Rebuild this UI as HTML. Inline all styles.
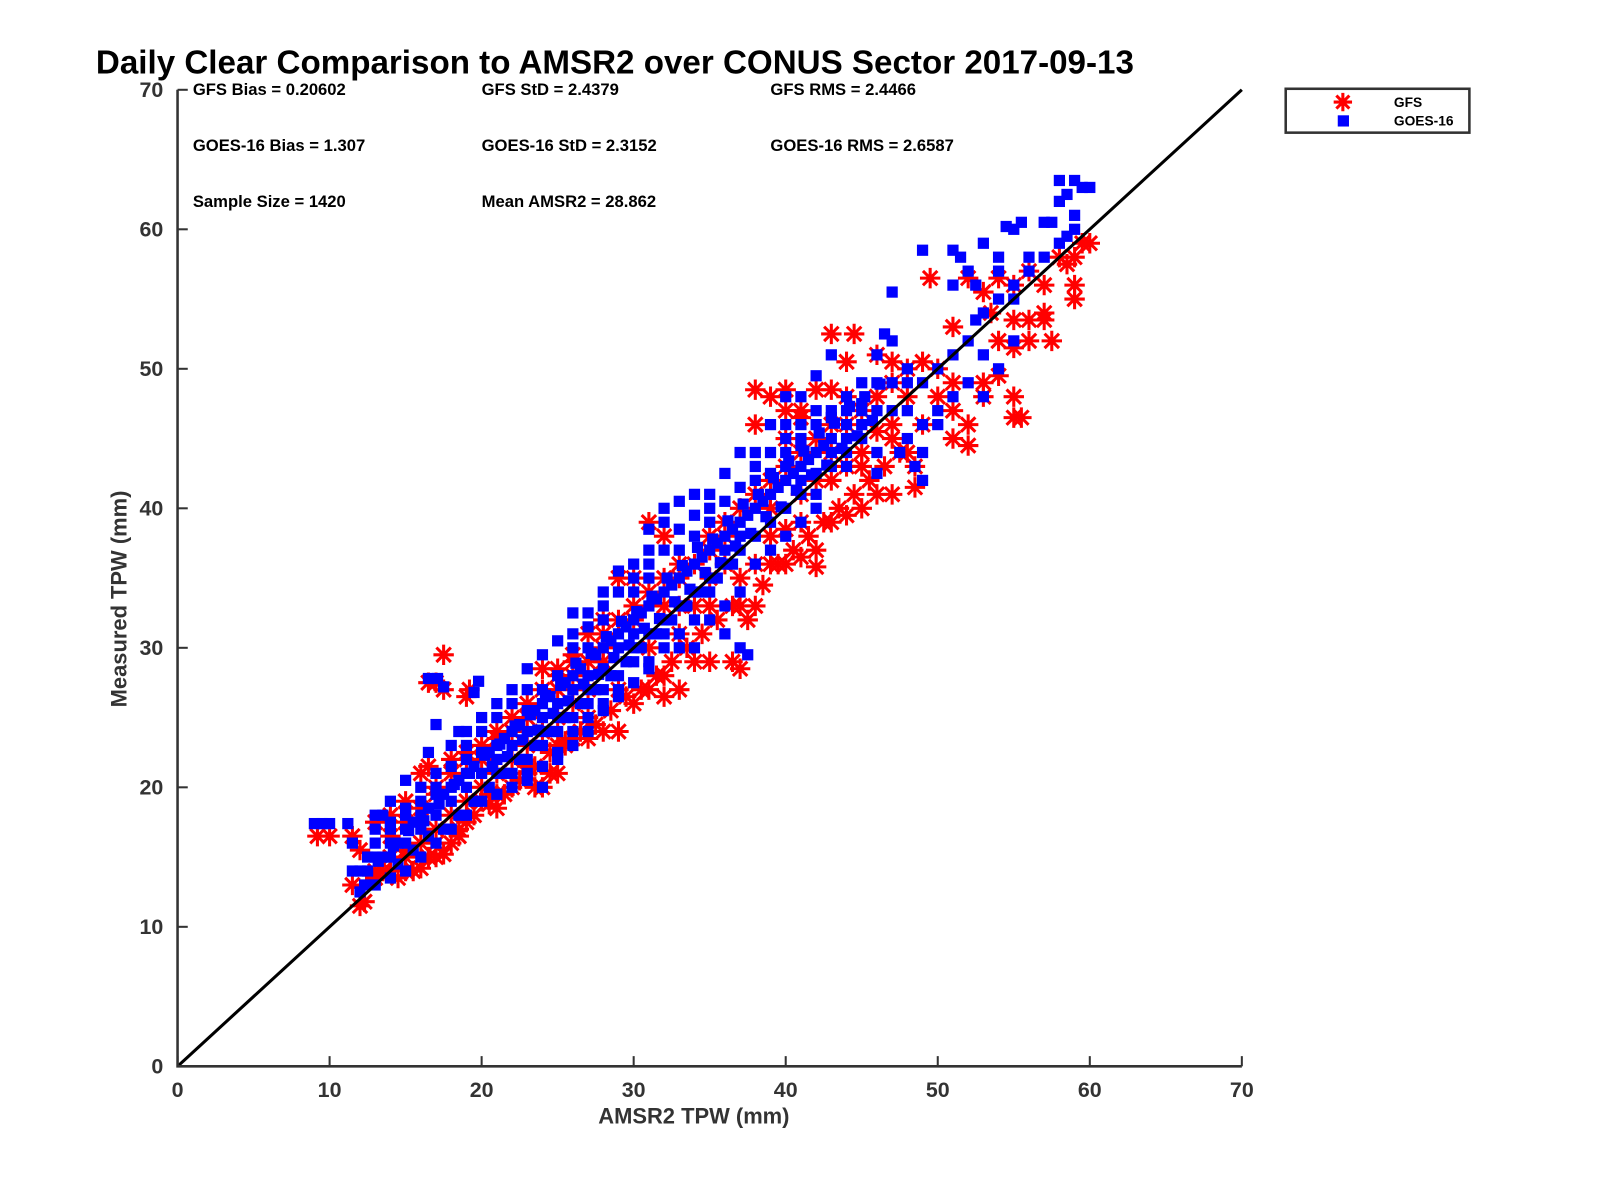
<!DOCTYPE html>
<html><head><meta charset="utf-8"><style>
body{margin:0;background:#fff;}
svg{display:block;font-family:"Liberation Sans",sans-serif;}
</style></head><body>
<svg id="chart" width="1600" height="1200" viewBox="0 0 1568 1176">
<text x="94" y="72" font-size="32.5" font-weight="bold" fill="#000">Daily Clear Comparison to AMSR2 over CONUS Sector 2017-09-13</text>
<g font-size="16.3" font-weight="bold" fill="#000">
<text x="189" y="93">GFS Bias = 0.20602</text>
<text x="472" y="93">GFS StD = 2.4379</text>
<text x="755" y="93">GFS RMS = 2.4466</text>
<text x="189" y="148">GOES-16 Bias = 1.307</text>
<text x="472" y="148">GOES-16 StD = 2.3152</text>
<text x="755" y="148">GOES-16 RMS = 2.6587</text>
<text x="189" y="203">Sample Size = 1420</text>
<text x="472" y="203">Mean AMSR2 = 28.862</text>
</g>
<g id="marks"></g>
<g id="axes"></g>
<text x="680" y="1101" font-size="21.5" font-weight="bold" fill="#333" text-anchor="middle">AMSR2 TPW (mm)</text>
<text transform="translate(124,587) rotate(-90)" font-size="21.5" font-weight="bold" fill="#333" text-anchor="middle">Measured TPW (mm)</text>
<g>
<rect x="1260" y="87" width="180" height="43" fill="#fff" stroke="#333" stroke-width="2.5"/>
<g id="legstar"></g>
<rect x="1311" y="113" width="11" height="11" fill="#0000ff"/>
<text x="1366" y="105" font-size="13.5" font-weight="bold">GFS</text>
<text x="1366" y="123" font-size="13.5" font-weight="bold">GOES-16</text>
</g>
</svg>
<script>
const xTicks=[0,10,20,30,40,50,60,70];
const yTicks=[0,10,20,30,40,50,60,70];
const gfsX=[9.2,10,11.5,12,11.5,12,12.3,13,13.5,14,15,15.5,16,17,17.5,18,18.5,13,14,15,16,16.5,17,16.5,17,17.5,17.5,19,19.2,18,19,20,20.5,21,22,23,23.5,24,24.5,25,25.5,26,27,28,29,24,25,26,27,27,28,29,30,31,32,30,31,32,33,32,34,35,33,34,35,36,36.5,37,37,37.5,38,38,39,39,40,41,42,42,40,41,43,44,45,46,47,48.5,48.5,48,47,46,45,44,43,42,38,39,40,40,41,42,43,44,44.5,43,46,47,47,48,49,50,50,49,51,51,51,52,53,53,54,55,55,55.5,52,49.5,53,53.5,54,55,55,56,56,57,57.5,57,57,58,58.5,59,59,59,59.5,60,56,55,54,52,51,39,36,35,33,32,30,28,27,26,25,24,23,22,21,20,19,18,17,16,15,14,13,22,20,21,23,25,26,28,30,32,34,36,38,40,42,44,46,48,31,33,35,37,29,27,25,23,21,19,17,15,41,43,45,47,
14.5,16.5,18.5,19.5,20.5,21.5,22.5,23.5,24.5,25.5,26.5,27.5,28.5,29.5,30.5,31.5,32.5,33.5,34.5,35.5,36.5,38.5,39.5,40.5,41.5,42.5,43.5,44.5,45.5,46.5,47.5,14,15,16,17,18,19,20,21,22,23,24,25,26,28,29,31,33,35,37,39,41,43,45,40,38,41,44];
const gfsY=[16.5,16.5,16.5,15.5,13,11.5,11.8,13.5,14,14,14,14,14.2,15,15.2,16,16.5,17.5,18,19,21,21.5,20,27.5,27.5,29.5,27,26.5,27,22,22.5,19,19.5,18.5,20,21,20,20,21,21,23,23.5,23.5,24,24,28.5,28.5,29,29,31,32,35,35,39,38,26,27,28,27,26.5,29,29,31,33,35,36,29,28.5,33,32,33,36,36,38,36,36.5,35.8,37,38.5,39,39,39.5,40,41,41,41.5,43,44,45,45.5,44,43,44,42,48.5,48,48.5,47,47,48.5,48.5,50.5,52.5,52.5,51,50.5,49,48,46,48,50,50.5,47,45,49,44.5,48,49,49.5,48,46.5,46.5,46,56.5,55.5,54,52,53.5,51.5,53.5,52,53.5,52,54,56,58,57.5,58,56,55,59,59,57,56,56.5,56.5,53,40,38,37,35,33,32,29,27,26,25,24,23,22,21,20,19,18,17,16,15,15,14,24,22,24,25,27,28,31,33,35,36,39,41,43,45,46,48,50,30,33,33,35,27,25,23,21.5,19.5,17.5,16,15.5,41,42,43,46,
13.5,15,17,18,18.8,19.5,20.5,21.5,22.5,23.3,24,24.5,25.5,26.5,27,28,29,30,31,32,33,34.5,36,37,38,39,40,41,42,43,44,16.5,17.5,18.5,19.5,21,22,23,23.5,25,26,27,28,29.5,30,32,34,36,38,40,42,44,46,47,45,46,46.5,48];
const goesX=[9,9.5,10,11.2,11.5,11.5,12,12.3,12.5,13,13.5,14,13,14,15,16,16,17,15,16.5,17,16.5,17.1,17.5,18.5,19.5,19.8,18,19,20,21,21,22,22,23,24,24,23,25,25,26,26,27,26,27,28,28,29,29,30,30,31,31,32,33,32,34,35,36,37,38,38,36,37,35,36,37,37,37.5,36,34,33,32,31,30,29,28,27,26,25,24,23,27,28,30,32,33,34,35,36,37,38,39,40,41,42,43,39,39,40,40,41,41,42,42,43,44,44,45,45,46,46,46.5,47,47,48,48,47,46,45,44,43,41,40,39,42,46,47.5,48,49,49,48.5,49,50,49,51,51.5,52,52.5,51,53,54,54,53,52,51,52.5,54,55,55,56,56,57,57,57.5,58,58,58,58.5,59,59.5,60,59,59,58.5,55,55.5,54.5,55,54,53,53,52,51,50,50,49,21,20,19,18,17,16,15,14,13,12,22,23,24,25,26,27,28,29,30,31,31,33,34,35,29,30,31,32,33,34,35,36,37,38,26,25,24,20,19,18,17,23,24,15,14,13,19,21,22,28,29,27,42,44,43,41,40,45,
12.5,13.5,14.5,15.5,16.5,17.5,18.5,19.5,20.5,21.5,22.5,23.5,24.5,25.5,26.5,27.5,28.5,29.5,30.5,31.5,32.5,33.5,34.5,35.5,36.5,37.5,38.5,39.5,40.5,41.5,42.5,14.5,15.5,16.5,17.5,18.5,19.5,20.5,21.5,22.5,23.5,24.5,25.5,26.5,27.5,28.5,29.5,30.5,31.5,32.5,33.5,34.5,35.5,36.5,14,15,16,17,18,19,20,21,22,23,24,25,26,27,28,30,31,32,33,34,35,36,37,38,39,40,41,42,43,44,45,46,41,40,43,44,47,48,38,39,40,41,42,35,34,33,32,31,30,29,28,27,26,25,24,23,22,21,20,19,18,17,16,15,14,13,
13.2,14.2,15.2,16.2,17.2,18.2,19.2,20.2,21.2,22.2,23.2,24.2,25.2,26.2,27.2,28.2,29.2,30.2,31.2,32.2,33.2,34.2,35.2,36.2,37.2,38.2,39.2,40.2,41.2,42.2,43.2,44.2,45.2,46.2,20.7,21.7,22.7,23.7,24.7,25.7,26.7,27.7,28.7,29.7,30.7,31.7,32.7,33.7,34.7,35.7,36.7,37.7,38.7,39.7,40.7,41.7,42.7,43.7,44.7,45.7];
const goesY=[17.4,17.4,17.4,17.4,16,14,12.5,13,15,18,18,17.5,16,16,17,18,20,21,18.5,22.5,24.5,27.8,27.8,27.2,24,26.8,27.6,23,24,24,25,22,24,26,27,26,23,22,25,28,28,30,30,32.5,32.5,32,33,34,35.5,34,36,37,38.5,40,40.5,39,41,41,42.5,44,44,43,37,38,34,33,34,30,29.5,31,30,30,31,29,29,28,27,25,24,22,20,21,27,28.5,31,34,35,36,37,38,39,40,41,42,43,44,45,44,46,45,48,46,48,47,49.5,51,48,46,47,49,49,51,52.5,52,55.5,50,47,47,44,45,44,43,41,40,39,41,42.5,44,45,46,44,43,49,50,58.5,58.5,58,57,56,56,59,58,57,54,52,51,53.5,55,55,56,58,57,58,60.5,60.5,59,62,63.5,62.5,63.5,63,63,61,60,59.5,60,60.5,60.2,52,50,48,51,49,48,47,46,42,23,21,20,19,18,17,16,15,15,14,23,24,25,26,27,28,30,31,32,33,35,37,38,39,30,30,31,32,33,34,35,36,37,38,25,24,24,22.5,21,20,19.5,25.5,27,20.5,19,17,22,21,21,26,26.5,26,42.5,45,46.5,44.5,44,47.5,
14,15,16,17.5,18.5,19.5,20.5,21.5,22.5,23.5,24.5,25.5,26.5,27.5,28.5,29.5,30.5,31.5,32.5,33.5,34.5,35.5,36.5,37.5,38.5,39.5,40.5,41.5,42.5,43.5,44.5,14.5,15.5,16.5,17,18,19,20,21,22,23,24,25,26,27,28,29,30,31,32,33,34,35,36,17,18,19,20,21.5,23,25,26,27,28.5,29.5,30.5,31,31.5,34,35,36,37,38.5,39.5,40,40.5,41.5,42,42.5,43,42,46,47,47,46,47,45,46,44,43,49,49,36,37,38,39,40,32,32,31,30,28.5,27.5,27,25.5,24,23,22.5,21.5,20.5,20,19.5,19,18,17,16,15,14,13.5,13,
14.7,15.8,16.9,17.6,18.8,20.2,21,22.3,23.1,24.4,25.2,26.6,27.3,28.9,29.6,30.8,31.9,32.6,33.7,35,35.9,37.2,37.8,39.1,40.3,41,42.2,43.4,44.1,45.4,46.1,47.3,48,48.9,21.5,22.2,23.4,24.1,25.3,26.2,27.4,28.1,29.3,30.2,31.4,32.1,33.3,34.2,35.4,36.1,37.3,38.2,39.4,40.1,41.3,42.4,43.1,44.3,45.2,46.3];
const SVGNS="http://www.w3.org/2000/svg";
const X0=174,X1=1217,Y0=1045,Y1=88;
const xs=v=>X0+(X1-X0)*v/70;
const ys=v=>Y0-(Y0-Y1)*v/70;
const marks=document.getElementById('marks');
const axes=document.getElementById('axes');
function star(parent,cx,cy,r){
  let d='';
  for(let k=0;k<4;k++){const a=k*Math.PI/4;const dx=r*Math.cos(a),dy=r*Math.sin(a);d+=`M${cx-dx},${cy-dy}L${cx+dx},${cy+dy}`;}
  const p=document.createElementNS(SVGNS,'path');
  p.setAttribute('d',d);p.setAttribute('stroke','#ff0000');p.setAttribute('stroke-width','3');p.setAttribute('fill','none');
  
  
  parent.appendChild(p);
}
for(let i=0;i<gfsX.length;i++){star(marks,xs(gfsX[i]),ys(gfsY[i]),10);}
for(let i=0;i<goesX.length;i++){
  const r=document.createElementNS(SVGNS,'rect');
  r.setAttribute('x',xs(goesX[i])-5.5);r.setAttribute('y',ys(goesY[i])-5.5);
  r.setAttribute('width',11);r.setAttribute('height',11);r.setAttribute('fill','#0000ff');
  
  
  marks.appendChild(r);
}
const ln=document.createElementNS(SVGNS,'line');
ln.setAttribute('x1',xs(0));ln.setAttribute('y1',ys(0));ln.setAttribute('x2',xs(70));ln.setAttribute('y2',ys(70));
ln.setAttribute('stroke','#000');ln.setAttribute('stroke-width','3');


marks.appendChild(ln);
const ax=document.createElementNS(SVGNS,'path');
ax.setAttribute('d',`M${X0},${Y1}L${X0},${Y0}L${X1},${Y0}`);
ax.setAttribute('stroke','#333');ax.setAttribute('stroke-width','2.5');ax.setAttribute('fill','none');


axes.appendChild(ax);
xTicks.forEach(v=>{
  const t=document.createElementNS(SVGNS,'line');
  t.setAttribute('x1',xs(v));t.setAttribute('x2',xs(v));t.setAttribute('y1',Y0);t.setAttribute('y2',Y0-10);
  t.setAttribute('stroke','#333');t.setAttribute('stroke-width','2');
  
  
  axes.appendChild(t);
  const tx=document.createElementNS(SVGNS,'text');
  tx.setAttribute('x',xs(v));tx.setAttribute('y',Y0+30);tx.setAttribute('text-anchor','middle');
  tx.setAttribute('font-size','21');tx.setAttribute('font-weight','bold');tx.setAttribute('fill','#333');
  tx.textContent=v;
  
  
  axes.appendChild(tx);
});
yTicks.forEach(v=>{
  const t=document.createElementNS(SVGNS,'line');
  t.setAttribute('x1',X0);t.setAttribute('x2',X0+10);t.setAttribute('y1',ys(v));t.setAttribute('y2',ys(v));
  t.setAttribute('stroke','#333');t.setAttribute('stroke-width','2');
  
  
  axes.appendChild(t);
  const tx=document.createElementNS(SVGNS,'text');
  tx.setAttribute('x',X0-14);tx.setAttribute('y',ys(v)+7);tx.setAttribute('text-anchor','end');
  tx.setAttribute('font-size','21');tx.setAttribute('font-weight','bold');tx.setAttribute('fill','#333');
  tx.textContent=v;
  
  
  axes.appendChild(tx);
});
star(document.getElementById('legstar'),1316,100,9);
</script>
</body></html>
